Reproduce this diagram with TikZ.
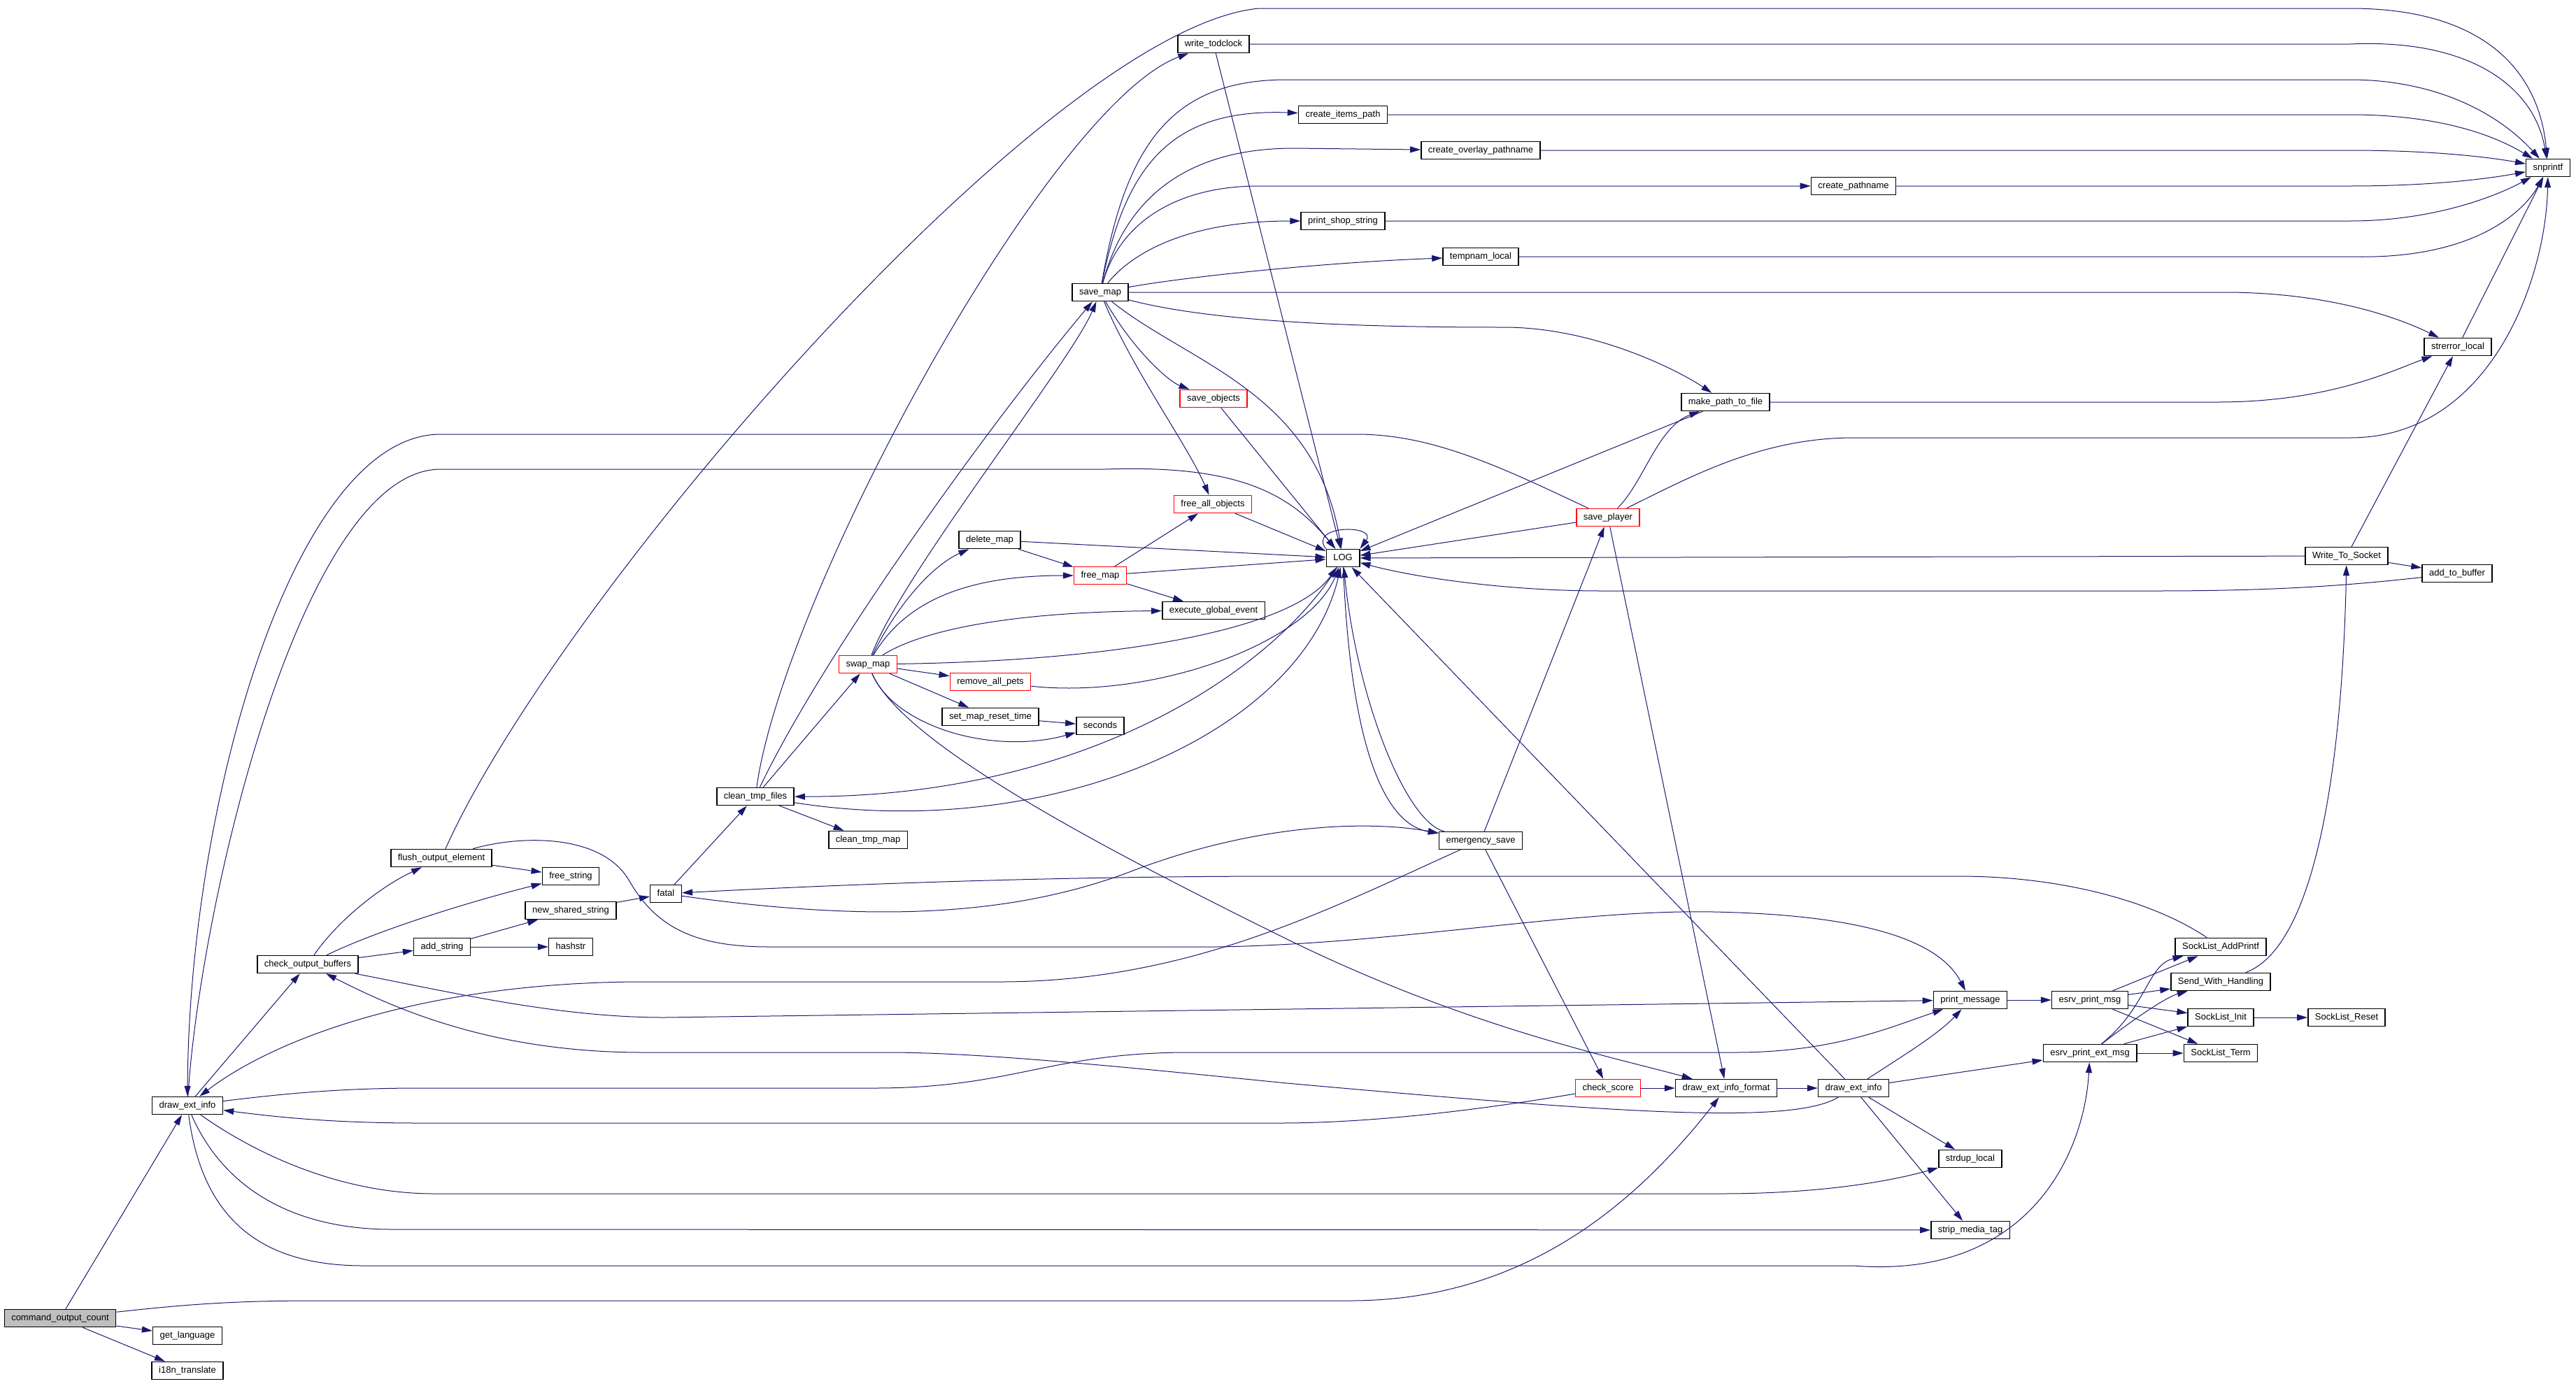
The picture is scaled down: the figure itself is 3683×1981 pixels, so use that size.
\documentclass[tikz,border=0pt]{standalone}
\usepackage{fontspec}
\setmainfont{Liberation Sans}
\usetikzlibrary{arrows.meta}
\definecolor{edgeblue}{HTML}{191970}
\definecolor{rootgrey}{HTML}{BFBFBF}
\tikzset{
  fn/.style={draw=black, line width=1.5pt, fill=white, font=\fontsize{13}{15}\selectfont,
    minimum height=25pt, inner xsep=10pt, inner ysep=0pt, text height=9.5pt, text depth=2.5pt},
  fnred/.style={fn, draw=red},
  fnroot/.style={fn, fill=rootgrey},
  call/.style={draw=edgeblue, line width=1pt, -{Triangle[length=15pt,width=9pt]}}
}
\begin{document}
\begin{tikzpicture}[x=1pt, y=-1pt]
  \useasboundingbox (0,0) rectangle (3683,1981);

  \node[fnroot] (cmdoc) at (86,1885) {command\_output\_count};
  \node[fn] (getlang) at (268,1910) {get\_language};
  \node[fn] (i18n) at (268,1960) {i18n\_translate};
  \node[fn] (deiL) at (268,1581) {draw\_ext\_info};
  \node[fn] (cob) at (440,1379) {check\_output\_buffers};
  \node[fn] (addstr) at (632,1354) {add\_string};
  \node[fn] (hashstr) at (816,1354) {hashstr};
  \node[fn] (flush) at (631,1227) {flush\_output\_element};
  \node[fn] (freestr) at (816,1253) {free\_string};
  \node[fn] (newss) at (816,1302) {new\_shared\_string};
  \node[fn] (fatal) at (952,1278) {fatal};
  \node[fn] (ctf) at (1080,1139) {clean\_tmp\_files};
  \node[fn] (ctm) at (1241,1201) {clean\_tmp\_map};
  \node[fnred] (swapmap) at (1241,950) {swap\_map};
  \node[fn] (delmap) at (1415,772) {delete\_map};
  \node[fnred] (freemap) at (1573,823) {free\_map};
  \node[fnred] (freeall) at (1734,721) {free\_all\_objects};
  \node[fn] (execge) at (1735,873) {execute\_global\_event};
  \node[fnred] (rmpets) at (1416,975) {remove\_all\_pets};
  \node[fn] (setreset) at (1416,1025) {set\_map\_reset\_time};
  \node[fn] (seconds) at (1573,1038) {seconds};
  \node[fn] (savemap) at (1573,418) {save\_map};
  \node[fn] (writetod) at (1735,63) {write\_todclock};
  \node[fnred] (saveobj) at (1735,570) {save\_objects};
  \node[fn] (log) at (1920,798) {LOG};
  \node[fn] (emsave) at (2117,1202) {emergency\_save};
  \node[fn] (itemspath) at (1920,164) {create\_items\_path};
  \node[fn] (overlay) at (2117,215) {create\_overlay\_pathname};
  \node[fn] (pathname) at (2650,266) {create\_pathname};
  \node[fn] (shopstr) at (1920,316) {print\_shop\_string};
  \node[fn] (tempnam) at (2117,367) {tempnam\_local};
  \node[fn] (mkpath) at (2467,575) {make\_path\_to\_file};
  \node[fnred] (saveplayer) at (2299,740) {save\_player};
  \node[fn] (snprintf) at (3643,240) {snprintf};
  \node[fn] (strerror) at (3514,496) {strerror\_local};
  \node[fn] (wts) at (3355,795) {Write\_To\_Socket};
  \node[fn] (addbuf) at (3513,820) {add\_to\_buffer};
  \node[fnred] (checkscore) at (2299,1556) {check\_score};
  \node[fn] (deif) at (2468,1556) {draw\_ext\_info\_format};
  \node[fn] (deiR) at (2650,1556) {draw\_ext\_info};
  \node[fn] (printmsg) at (2817,1430) {print\_message};
  \node[fn] (esrvmsg) at (2988,1430) {esrv\_print\_msg};
  \node[fn] (esrvext) at (2988,1506) {esrv\_print\_ext\_msg};
  \node[fn] (addprintf) at (3175,1354) {SockList\_AddPrintf};
  \node[fn] (sendwh) at (3175,1404) {Send\_With\_Handling};
  \node[fn] (slinit) at (3175,1455) {SockList\_Init};
  \node[fn] (slterm) at (3175,1506) {SockList\_Term};
  \node[fn] (slreset) at (3355,1455) {SockList\_Reset};
  \node[fn] (strdup) at (2817,1657) {strdup\_local};
  \node[fn] (stripmt) at (2817,1759) {strip\_media\_tag};

  % command_output_count and the left draw_ext_info
  \draw[call] (cmdoc) -- (deiL);
  \draw[call] (cmdoc) -- (getlang);
  \draw[call] (cmdoc) -- (i18n);
  \draw[call] (cmdoc) .. controls (260,1866) and (330,1860) .. (450,1860) -- (1930,1860) .. controls (2180,1860) and (2340,1720) .. (deif);
  \draw[call] (deiL) -- (cob);
  \draw[call] (deiL) .. controls (285,1300) and (430,671) .. (630,671) -- (1580,671) .. controls (1760,665) and (1840,700) .. (log);
  \draw[call] (deiL) .. controls (420,1562) and (500,1556) .. (600,1556) -- (1250,1556) .. controls (1450,1556) and (1500,1505) .. (1700,1505) -- (2480,1505) .. controls (2620,1505) and (2700,1470) .. (printmsg);
  \draw[call] (deiL) .. controls (380,1660) and (500,1707) .. (620,1707) -- (2460,1707) .. controls (2600,1707) and (2700,1690) .. (strdup);
  \draw[call] (deiL) .. controls (320,1700) and (420,1758) .. (560,1758) -- (stripmt);
  \draw[call] (deiL) .. controls (290,1750) and (380,1810) .. (520,1810) -- (2650,1810) .. controls (2900,1830) and (2980,1650) .. (esrvext);
  \draw[call] (saveplayer) .. controls (2150,670) and (2050,621) .. (1940,621) -- (630,621) .. controls (420,621) and (270,1150) .. (deiL);
  \draw[call] (checkscore) .. controls (2100,1590) and (1950,1606) .. (1830,1606) -- (600,1606) .. controls (480,1606) and (400,1598) .. (deiL);
  \draw[call] (emsave) .. controls (1900,1300) and (1700,1404) .. (1430,1404) -- (920,1404) .. controls (620,1404) and (400,1480) .. (deiL);

  % output buffers
  \draw[call] (cob) .. controls (480,1320) and (540,1270) .. (flush);
  \draw[call] (cob) .. controls (530,1335) and (650,1295) .. (freestr);
  \draw[call] (cob) -- (addstr);
  \draw[call] (cob) .. controls (650,1420) and (800,1455) .. (950,1455) -- (printmsg);
  \draw[call] (deiR) .. controls (2560,1610) and (2300,1590) .. (1840,1549) .. controls (1600,1525) and (1400,1505) .. (1270,1505) -- (920,1505) .. controls (700,1505) and (560,1440) .. (cob);
  \draw[call] (flush) -- (freestr);
  \draw[call] (flush) .. controls (800,850) and (1500,40) .. (1800,12) -- (3360,12) .. controls (3550,12) and (3630,100) .. (snprintf);
  \draw[call] (flush) .. controls (740,1195) and (860,1190) .. (900,1260) .. controls (940,1330) and (1000,1354) .. (1100,1354) -- (1740,1354) .. controls (2000,1350) and (2250,1300) .. (2450,1304) .. controls (2650,1308) and (2770,1340) .. (printmsg);
  \draw[call] (addstr) -- (newss);
  \draw[call] (addstr) -- (hashstr);
  \draw[call] (newss) -- (fatal);

  % fatal and clean_tmp_files
  \draw[call] (fatal) -- (ctf);
  \draw[call] (fatal) .. controls (1250,1320) and (1450,1310) .. (1620,1245) .. controls (1790,1180) and (1950,1172) .. (emsave);
  \draw[call] (addprintf) .. controls (3080,1290) and (2950,1253) .. (2800,1253) -- (1840,1253) .. controls (1500,1253) and (1200,1265) .. (fatal);
  \draw[call] (ctf) -- (swapmap);
  \draw[call] (ctf) -- (ctm);
  \draw[call] (ctf) .. controls (1180,930) and (1420,600) .. (savemap);
  \draw[call] (ctf) .. controls (1120,850) and (1500,150) .. (writetod);
  \draw[call] (ctf) .. controls (1500,1205) and (1860,1050) .. (log);
  \draw[call] (log) .. controls (1820,960) and (1550,1140) .. (ctf);

  % swap_map
  \draw[call] (swapmap) .. controls (1290,820) and (1530,520) .. (savemap);
  \draw[call] (swapmap) .. controls (1280,870) and (1330,810) .. (delmap);
  \draw[call] (swapmap) .. controls (1300,850) and (1400,823) .. (freemap);
  \draw[call] (swapmap) .. controls (1320,900) and (1450,875) .. (execge);
  \draw[call] (swapmap) .. controls (1600,945) and (1850,900) .. (log);
  \draw[call] (swapmap) -- (rmpets);
  \draw[call] (swapmap) -- (setreset);
  \draw[call] (swapmap) .. controls (1280,1040) and (1420,1080) .. (seconds);
  \draw[call] (swapmap) .. controls (1290,1060) and (1550,1200) .. (1840,1343) .. controls (2100,1470) and (2300,1510) .. (deif);
  \draw[call] (delmap) -- (freemap);
  \draw[call] (delmap) -- (log);
  \draw[call] (freemap) -- (log);
  \draw[call] (freemap) -- (freeall);
  \draw[call] (freemap) -- (execge);
  \draw[call] (freeall) -- (log);
  \draw[call] (setreset) -- (seconds);
  \draw[call] (rmpets) .. controls (1650,1000) and (1870,920) .. (log);

  % save_map
  \draw[call] (savemap) .. controls (1610,200) and (1680,114) .. (1840,114) -- (3360,114) .. controls (3480,114) and (3570,160) .. (snprintf);
  \draw[call] (savemap) .. controls (1610,230) and (1680,155) .. (itemspath);
  \draw[call] (savemap) .. controls (1610,280) and (1700,212) .. (1850,212) -- (overlay);
  \draw[call] (savemap) .. controls (1600,320) and (1680,266) .. (1800,266) -- (pathname);
  \draw[call] (savemap) .. controls (1620,360) and (1700,316) .. (shopstr);
  \draw[call] (savemap) .. controls (1700,395) and (1900,375) .. (tempnam);
  \draw[call] (savemap) -- (3180,418) .. controls (3320,418) and (3420,450) .. (strerror);
  \draw[call] (savemap) .. controls (1750,465) and (2000,468) .. (2150,468) .. controls (2280,468) and (2400,530) .. (mkpath);
  \draw[call] (savemap) .. controls (1700,520) and (1880,560) .. (log);
  \draw[call] (savemap) .. controls (1620,500) and (1670,545) .. (saveobj);
  \draw[call] (savemap) .. controls (1620,530) and (1700,640) .. (freeall);
  \draw[call] (saveobj) -- (log);
  \draw[call] (writetod) -- (3360,63) .. controls (3540,55) and (3625,130) .. (snprintf);
  \draw[call] (writetod) -- (log);
  \draw[call] (itemspath) -- (3360,164) .. controls (3480,164) and (3560,190) .. (snprintf);
  \draw[call] (overlay) -- (3360,215) .. controls (3480,215) and (3560,225) .. (snprintf);
  \draw[call] (pathname) -- (3360,266) .. controls (3480,266) and (3560,255) .. (snprintf);
  \draw[call] (shopstr) -- (3360,316) .. controls (3480,316) and (3570,280) .. (snprintf);
  \draw[call] (tempnam) -- (3360,367) .. controls (3540,372) and (3610,300) .. (snprintf);
  \draw[call] (strerror) -- (snprintf);

  % save_player and emergency_save
  \draw[call] (saveplayer) .. controls (2420,680) and (2520,626) .. (2650,626) -- (3360,626) .. controls (3560,626) and (3640,400) .. (snprintf);
  \draw[call] (saveplayer) .. controls (2350,690) and (2370,610) .. (mkpath);
  \draw[call] (saveplayer) -- (log);
  \draw[call] (saveplayer) -- (deif);
  \draw[call] (mkpath) -- (log);
  \draw[call] (mkpath) -- (3170,575) .. controls (3330,575) and (3420,530) .. (strerror);
  \draw[call] (emsave) -- (saveplayer);
  \draw[call] (emsave) -- (checkscore);
  \draw[call] (emsave) .. controls (2010,1175) and (1940,1000) .. (log);
  \draw[call] (log) .. controls (1928,1000) and (1960,1175) .. (emsave);
  \draw[call] (log.north west) .. controls (1870,750) and (1970,750) .. (log.north east);

  % socket side
  \draw[call] (wts) -- (log);
  \draw[call] (wts) -- (addbuf);
  \draw[call] (wts) -- (strerror);
  \draw[call] (addbuf) .. controls (3350,838) and (3250,845) .. (3080,845) -- (2290,845) .. controls (2150,845) and (2020,825) .. (log);
  \draw[call] (sendwh) .. controls (3320,1350) and (3350,1050) .. (wts);
  \draw[call] (printmsg) -- (esrvmsg);
  \draw[call] (esrvmsg) -- (addprintf);
  \draw[call] (esrvmsg) -- (sendwh);
  \draw[call] (esrvmsg) -- (slinit);
  \draw[call] (esrvmsg) -- (slterm);
  \draw[call] (esrvext) .. controls (3070,1440) and (3070,1380) .. (addprintf);
  \draw[call] (esrvext) .. controls (3060,1450) and (3100,1425) .. (sendwh);
  \draw[call] (esrvext) -- (slinit);
  \draw[call] (esrvext) -- (slterm);
  \draw[call] (slinit) -- (slreset);

  % right draw_ext_info
  \draw[call] (checkscore) -- (deif);
  \draw[call] (deif) -- (deiR);
  \draw[call] (deiR) .. controls (2720,1510) and (2770,1480) .. (printmsg);
  \draw[call] (deiR) -- (esrvext);
  \draw[call] (deiR) -- (strdup);
  \draw[call] (deiR) -- (stripmt);
  \draw[call] (deiR) -- (log);
\end{tikzpicture}
\end{document}
